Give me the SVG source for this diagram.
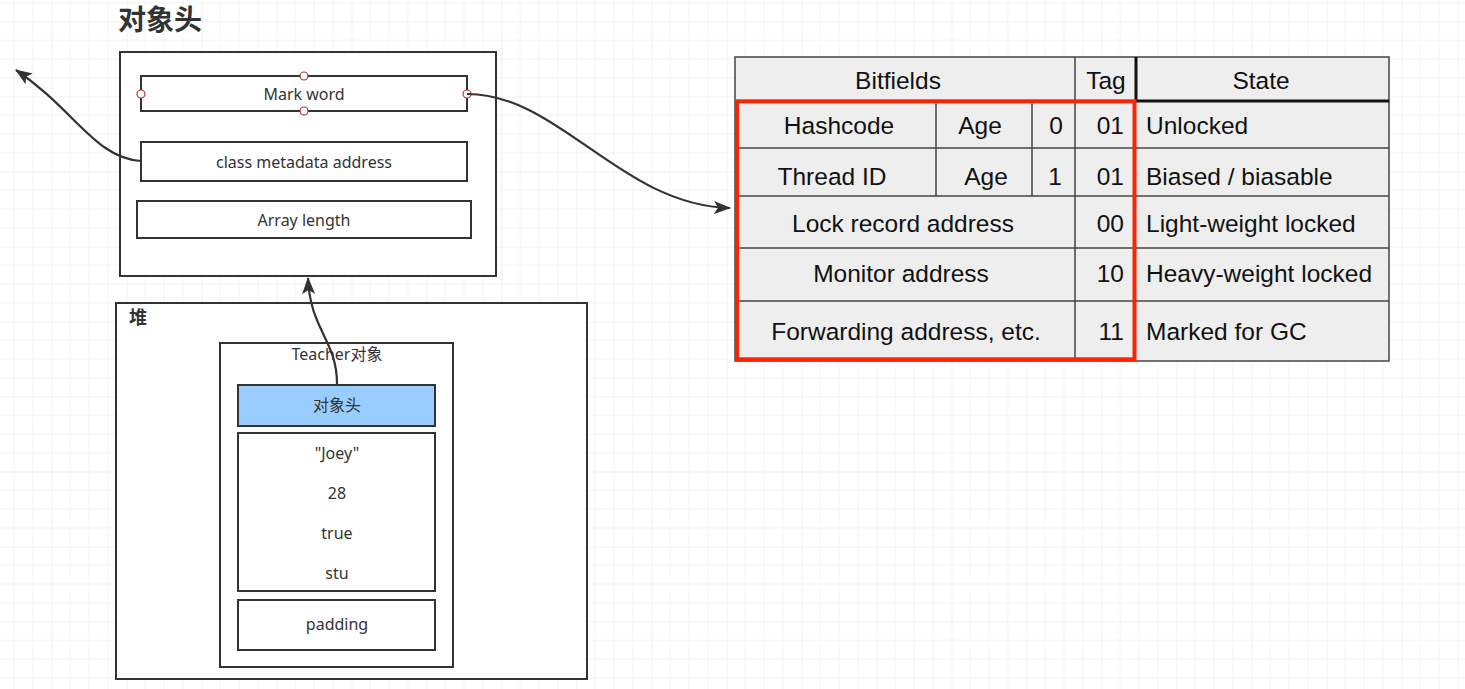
<svg xmlns="http://www.w3.org/2000/svg" width="1465" height="689" viewBox="0 0 1465 689">
<style>
.box{fill:#fff;stroke:#333;stroke-width:2}
.lt{font-family:"Noto Sans","Noto Sans CJK SC",sans-serif;font-size:16px;fill:#333;text-anchor:middle}
.cjkb{font-family:"Noto Sans CJK SC","Noto Sans",sans-serif;font-weight:bold;fill:#333}
.tt{font-family:"Liberation Sans",Arial,sans-serif;font-size:24.5px;fill:#111}
.mid{text-anchor:middle}
.end{text-anchor:end}
.cell{stroke:#444;stroke-width:1.5;fill:none}
.conn{fill:none;stroke:#333;stroke-width:2.2}
.handle{fill:#fff;stroke:#a33;stroke-width:1.2}
</style>
<defs>
<pattern id="grid" x="51.5" y="21.5" width="75" height="75" patternUnits="userSpaceOnUse">
<path d="M18.75 0V75M37.5 0V75M56.25 0V75M0 18.75H75M0 37.5H75M0 56.25H75" stroke="#f3f3f3" stroke-width="1" fill="none"/>
<path d="M0 0V75M0 0H75" stroke="#e4e4e4" stroke-width="1" fill="none"/>
</pattern>
<marker id="arrow" viewBox="0 0 17 13" refX="16" refY="6.5" markerWidth="17" markerHeight="13" markerUnits="userSpaceOnUse" orient="auto">
<path d="M0,0 L17,6.5 L0,13 L4,6.5 z" fill="#333"/>
</marker>
</defs>
<rect width="1465" height="689" fill="#fff"/>
<rect width="1465" height="689" fill="url(#grid)"/>

<text class="cjkb" x="118" y="30" font-size="28">对象头</text>

<g id="object-header">
<rect class="box" x="120" y="52" width="376" height="224"/>
</g>
<g id="mark-word">
<rect class="box" x="141" y="76" width="326" height="35"/>
<text class="lt" x="304" y="100">Mark word</text>
<circle class="handle" cx="304" cy="76" r="4"/>
<circle class="handle" cx="304" cy="111" r="4"/>
<circle class="handle" cx="141" cy="94" r="4"/>
<circle class="handle" cx="467" cy="94" r="4"/>
</g>
<g id="class-metadata">
<rect class="box" x="141" y="142" width="326" height="39"/>
<text class="lt" x="304" y="168">class metadata address</text>
</g>
<g id="array-length">
<rect class="box" x="137" y="201" width="334" height="37"/>
<text class="lt" x="304" y="226">Array length</text>
</g>

<g id="heap">
<rect class="box" x="116" y="303" width="471" height="376" stroke-width="2.4" stroke="#444"/>
<text class="cjkb" x="129" y="324" font-size="18">堆</text>
</g>
<g id="teacher">
<rect class="box" x="220" y="343" width="233" height="324"/>
<text class="lt" x="337" y="360">Teacher对象</text>
</g>
<g id="teacher-header">
<rect class="box" x="238" y="385" width="197" height="41" style="fill:#99ccff"/>
<text class="lt" x="337" y="411">对象头</text>
</g>
<g id="teacher-fields">
<rect class="box" x="238" y="433" width="197" height="158"/>
<text class="lt" x="337" y="459">"Joey"</text>
<text class="lt" x="337" y="499">28</text>
<text class="lt" x="337" y="539">true</text>
<text class="lt" x="337" y="579">stu</text>
</g>
<g id="padding">
<rect class="box" x="238" y="600" width="197" height="50"/>
<text class="lt" x="337" y="630">padding</text>
</g>

<g id="mark-word-table">
<rect x="735" y="57" width="654" height="304" fill="#eeeeee" stroke="#444" stroke-width="1.5"/>
<path class="cell" d="M735 148H1389M735 196H1389M735 248H1389M735 301H1389M936 101V196M1032 101V196M1075 57V361M735 101H1135"/>
<path d="M1136 57V101M1136 101H1389" stroke="#111" stroke-width="3" fill="none"/>
<rect x="737" y="101.3" width="397.5" height="258" fill="none" stroke="#ff2200" stroke-width="4"/>
<text class="tt mid" x="898" y="89">Bitfields</text>
<text class="tt mid" x="1106" y="89">Tag</text>
<text class="tt mid" x="1261" y="89">State</text>
<text class="tt mid" x="839" y="134">Hashcode</text>
<text class="tt mid" x="980" y="134">Age</text>
<text class="tt mid" x="1056" y="134">0</text>
<text class="tt end" x="1124" y="134">01</text>
<text class="tt" x="1146" y="134">Unlocked</text>
<text class="tt mid" x="832" y="185">Thread ID</text>
<text class="tt mid" x="986" y="185">Age</text>
<text class="tt mid" x="1055" y="185">1</text>
<text class="tt end" x="1124" y="185">01</text>
<text class="tt" x="1146" y="185">Biased / biasable</text>
<text class="tt mid" x="903" y="232">Lock record address</text>
<text class="tt end" x="1124" y="232">00</text>
<text class="tt" x="1146" y="232">Light-weight locked</text>
<text class="tt mid" x="901" y="282">Monitor address</text>
<text class="tt end" x="1124" y="282">10</text>
<text class="tt" x="1146" y="282">Heavy-weight locked</text>
<text class="tt mid" x="906" y="340">Forwarding address, etc.</text>
<text class="tt end" x="1124" y="340">11</text>
<text class="tt" x="1146" y="340">Marked for GC</text>
</g>

<g id="connectors">
<path class="conn" d="M141,161 C95,158 75,110 16,70" marker-end="url(#arrow)"/>
<path class="conn" d="M467,94 C560,94 620,205 730,208" marker-end="url(#arrow)"/>
<path class="conn" d="M337,384 C337,340 310,330 308,278" marker-end="url(#arrow)"/>
</g>
</svg>
